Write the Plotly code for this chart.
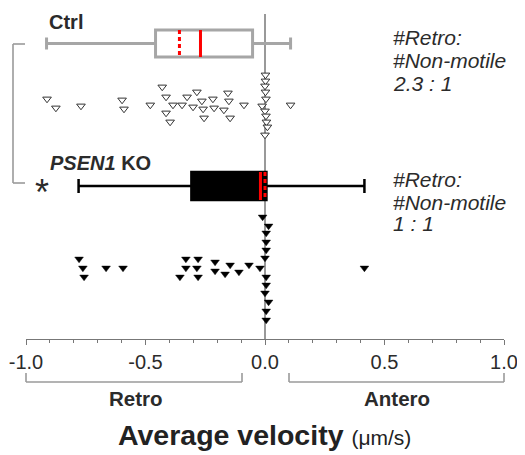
import numpy as np
import plotly.graph_objects as go

# ---------------- data ----------------
# Ctrl: velocities (um/s) and vertical jitter rows (y positions, top = 0)
ctrl_retro_v = [-0.912, -0.875, -0.770, -0.598, -0.590, -0.480, -0.430, -0.414, -0.414, -0.397,
                -0.385, -0.347, -0.326, -0.301, -0.285, -0.264, -0.259, -0.255, -0.218, -0.213,
                -0.172, -0.155, -0.151, -0.146, -0.088]
ctrl_retro_y = [99, 108, 106, 100, 109, 105, 87, 97, 113, 122,
                105, 105, 97, 107, 92, 101, 109, 118, 99, 108,
                110, 93, 101, 118, 105]
ctrl_still_v = [0.002, 0.002, 0.0, 0.002, 0.004, -0.012, 0.0, 0.004, 0.006, 0.010, 0.0]
ctrl_still_y = [75, 81, 86, 92, 99, 106, 111, 116, 122, 127, 135]
ctrl_antero_v = [0.107]
ctrl_antero_y = [105]

ko_retro_v = [-0.778, -0.762, -0.757, -0.665, -0.594, -0.356, -0.331, -0.331, -0.280, -0.285,
              -0.280, -0.209, -0.209, -0.167, -0.146, -0.109, -0.067, -0.021]
ko_retro_y = [259, 268, 277, 268, 268, 277, 259, 268, 259, 268,
              277, 262, 271, 274, 265, 272, 265, 268]
ko_still_v = [-0.010, 0.015, 0.005, 0.005, 0.005, 0.0, 0.005, 0.005, 0.0, 0.015, 0.005, 0.005]
ko_still_y = [217, 226, 233, 242, 250, 258, 277, 285, 293, 302, 311, 320]
ko_antero_v = [0.416]
ko_antero_y = [268]

# box statistics: [Ctrl, KO]
box_names = ["Ctrl", "PSEN1 KO"]
box_low = [-0.914, -0.780]
box_q1 = [-0.458, -0.308]
box_median = [-0.270, -0.019]
box_mean = [-0.358, 0.000]
box_q3 = [-0.052, 0.006]
box_high = [0.107, 0.416]
box_row = [43.5, 186]

ratio_text = ["2.3 : 1", "1 : 1"]

tick_vals = [-1.0, -0.5, 0.0, 0.5, 1.0]
tick_text = ["-1.0", "-0.5", "0.0", "0.5", "1.0"]

# ---------------- layout helpers ----------------
# the page body adds an 8px offset, so the figure is 8px smaller than the window
OFF = 8
W, H = 525 - OFF, 455 - OFF
L, R, T, B = 18, 21, 0, 116
PW, PH = W - L - R, H - T - B


def px(x):  # window pixel -> paper
    return (x - OFF - L) / PW


def py(y):  # window pixel -> paper
    return 1 - (y - OFF - T) / PH


FONT = "Liberation Sans, Arial, sans-serif"
TXT = "#2b2b2b"

fig = go.Figure()

# zero line
fig.add_shape(type="line", xref="x", yref="y", x0=0, x1=0, y0=14, y1=339,
              line=dict(color="#555555", width=1.2), layer="below")

# boxes
box_styles = [
    dict(line=dict(color="#a6a6a6", width=3), fillcolor="white", width=27, whiskerwidth=0.45),
    dict(line=dict(color="black", width=2.5), fillcolor="black", width=28, whiskerwidth=0.5),
]
for i in range(2):
    st = box_styles[i]
    fig.add_trace(go.Box(
        orientation="h", y=[box_row[i]], q1=[box_q1[i]], median=[box_median[i]],
        q3=[box_q3[i]], lowerfence=[box_low[i]], upperfence=[box_high[i]],
        width=st["width"], whiskerwidth=st["whiskerwidth"], line=st["line"],
        fillcolor=st["fillcolor"], boxpoints=False, showlegend=False, hoverinfo="skip"))
    half = st["width"] / 2
    fig.add_trace(go.Scatter(x=[box_median[i]] * 2, y=[box_row[i] - half, box_row[i] + half],
                             mode="lines", line=dict(color="#ff0000", width=3),
                             showlegend=False, hoverinfo="skip"))
    fig.add_trace(go.Scatter(x=[box_mean[i]] * 2, y=[box_row[i] - half, box_row[i] + half],
                             mode="lines", line=dict(color="#ff0000", width=3, dash="4px,3px"),
                             showlegend=False, hoverinfo="skip"))

# points
ctrl_v = ctrl_retro_v + ctrl_still_v + ctrl_antero_v
ctrl_y = ctrl_retro_y + ctrl_still_y + ctrl_antero_y
ko_v = ko_retro_v + ko_still_v + ko_antero_v
ko_y = ko_retro_y + ko_still_y + ko_antero_y

fig.add_trace(go.Scatter(x=ctrl_v, y=ctrl_y, mode="markers",
                         marker=dict(symbol="triangle-down", size=7.5, color="white",
                                     line=dict(color="#333333", width=1)),
                         showlegend=False))
fig.add_trace(go.Scatter(x=ko_v, y=ko_y, mode="markers",
                         marker=dict(symbol="triangle-down", size=7.5, color="black",
                                     line=dict(color="black", width=0.5)),
                         showlegend=False))

# brackets
gray = "#9a9a9a"
shapes = [
    # left bracket linking groups
    (13, 44, 25, 44), (13, 44, 13, 183), (13, 183, 25, 183),
    # Retro bracket
    (26, 373, 26, 382), (26, 382, 242, 382), (242, 373, 242, 382),
    # Antero bracket
    (289, 373, 289, 382), (289, 382, 504, 382), (504, 373, 504, 382),
]
for (x0, y0, x1, y1) in shapes:
    fig.add_shape(type="line", xref="paper", yref="paper",
                  x0=px(x0), y0=py(y0), x1=px(x1), y1=py(y1),
                  line=dict(color=gray, width=1.6))

ann = []


def text(x, y, s, size, xanchor="left", color=TXT):
    ann.append(dict(x=px(x), y=py(y), xref="paper", yref="paper", text=s, showarrow=False,
                    xanchor=xanchor, yanchor="middle",
                    font=dict(family=FONT, size=size, color=color)))


text(47, 22, "<b>Ctrl</b>", 20)
text(48, 163, "<b><i>PSEN1</i> KO</b>", 20)
text(42, 192, "*", 36, xanchor="center")

for lines_y, ratio in zip([(37, 60, 83), (179, 202, 223)], ratio_text):
    text(391, lines_y[0], "<i>#Retro:</i>", 21)
    text(391, lines_y[1], "<i>#Non-motile</i>", 21)
    text(391, lines_y[2], "<i>" + ratio + "</i>", 21)

text(136, 398, "<b>Retro</b>", 20.5, xanchor="center")
text(397, 398, "<b>Antero</b>", 20.5, xanchor="center")
text(264, 435, "<b>Average velocity</b> <span style='font-size:21px'>(μm/s)</span>", 28.5,
     xanchor="center", color="#222222")

minor_vals = [round(v, 1) for v in np.arange(-1.0, 1.01, 0.1)]

fig.update_layout(
    width=W, height=H,
    margin=dict(l=L, r=R, t=T, b=B),
    paper_bgcolor="white", plot_bgcolor="white",
    boxmode="overlay",
    annotations=ann,
    xaxis=dict(range=[-1, 1], showgrid=False, zeroline=False, showline=True,
               linecolor="#777777", linewidth=1,
               tickmode="array", tickvals=tick_vals, ticktext=tick_text,
               ticks="outside", ticklen=5, tickcolor="#777777", tickwidth=1,
               tickfont=dict(family=FONT, size=20, color=TXT),
               minor=dict(tickmode="array", tickvals=minor_vals, ticks="outside",
                          ticklen=3, tickcolor="#777777", showgrid=False),
               fixedrange=True),
    yaxis=dict(range=[339, OFF], visible=False, fixedrange=True),
)

fig.write_html("out.html")
